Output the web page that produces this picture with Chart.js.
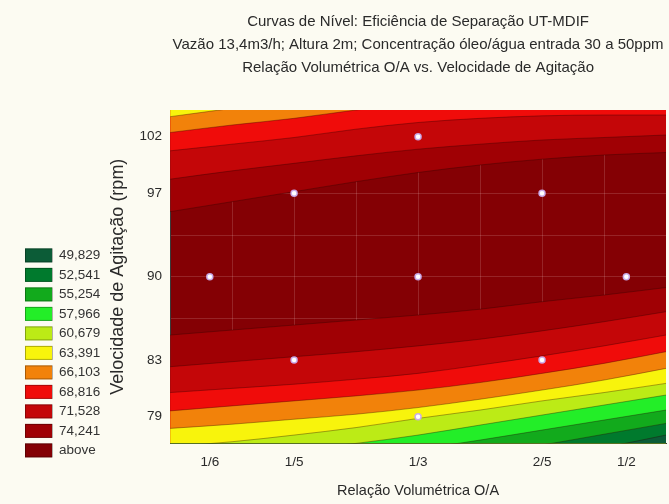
<!DOCTYPE html>
<html>
<head>
<meta charset="utf-8">
<script src="https://cdn.jsdelivr.net/npm/chart.js@4.4.0/dist/chart.umd.min.js"></script>
<style>
  html, body { margin: 0; padding: 0; background: #fcfbf2; }
</style>
</head>
<body>
<canvas id="canvas" width="669" height="504"></canvas>
<script>
// contour levels (upper limit of each colour band) and their colours
let levels = ['49,829', '52,541', '55,254', '57,966', '60,679', '63,391',
              '66,103', '68,816', '71,528', '74,241', 'above'];
let levelColors = ['rgb(12,92,55)', 'rgb(0,122,45)', 'rgb(18,170,28)', 'rgb(35,238,40)',
                   'rgb(188,235,22)', 'rgb(248,244,12)', 'rgb(242,130,10)', 'rgb(240,12,10)',
                   'rgb(196,6,8)', 'rgb(160,0,4)', 'rgb(132,0,4)'];

// coded design levels and the real values they stand for
let xTickPos = [-1.68, -1, 0, 1, 1.68];
let xTickLabels = ['1/6', '1/5', '1/3', '2/5', '1/2'];
let yTickPos = [-1.68, -1, 0, 1, 1.68];
let yTickLabels = ['79', '83', '90', '97', '102'];

// experimental runs (coded)
let runX = [-1.68, -1, -1, 0, 0, 0, 1, 1, 1.68];
let runY = [0, 1, -1, 1.68, 0, -1.68, 1, -1, 0];

// contour lines, sampled along x (coded units)
let lineX = [-2, -1.5, -1, -0.5, 0, 0.5, 1, 1.5, 2];

// lower side of the ridge
let low74241 = [-0.70, -0.64, -0.58, -0.52, -0.46, -0.39, -0.30, -0.22, -0.13];
let low71528 = [-1.08, -1.02, -0.96, -0.90, -0.83, -0.75, -0.65, -0.54, -0.42];
let low68816 = [-1.39, -1.34, -1.29, -1.23, -1.16, -1.06, -0.95, -0.83, -0.70];
let low66103 = [-1.61, -1.55, -1.49, -1.43, -1.36, -1.27, -1.16, -1.04, -0.90];
let low63391 = [-1.82, -1.77, -1.71, -1.65, -1.57, -1.47, -1.36, -1.24, -1.10];
let low60679 = [-2.04, -1.98, -1.90, -1.81, -1.70, -1.60, -1.49, -1.39, -1.28];
let low57966 = [-2.23, -2.16, -2.08, -2.00, -1.90, -1.78, -1.66, -1.54, -1.42];
let low55254 = [-2.42, -2.34, -2.25, -2.17, -2.07, -1.96, -1.84, -1.72, -1.60];
let low52541 = [-2.63, -2.53, -2.45, -2.35, -2.25, -2.14, -2.02, -1.89, -1.76];
let low49829 = [-2.81, -2.72, -2.63, -2.53, -2.42, -2.31, -2.18, -2.05, -1.90];

// upper side of the ridge
let up74241 = [0.78, 0.90, 1.02, 1.14, 1.25, 1.34, 1.41, 1.46, 1.49];
let up71528 = [1.17, 1.27, 1.36, 1.45, 1.53, 1.59, 1.64, 1.67, 1.70];
let up68816 = [1.51, 1.59, 1.67, 1.77, 1.85, 1.90, 1.93, 1.94, 1.94];
let up66103 = [1.73, 1.82, 1.90, 2.00, 2.08, 2.16, 2.24, 2.32, 2.40];
let up63391 = [1.92, 2.02, 2.12, 2.22, 2.32, 2.42, 2.52, 2.62, 2.72];

const FONT = '"Liberation Sans", Arial, sans-serif';

function pts(ys) {
  return lineX.map((x, i) => ({x: x, y: ys[i]}));
}

// one filled band per contour line; lower lines fill down, upper lines fill up
function band(ys, level, side, order) {
  return {
    type: 'line',
    data: pts(ys),
    fill: side,
    backgroundColor: levelColors[level],
    borderColor: 'rgba(40,0,0,0.35)',
    borderWidth: 1,
    pointRadius: 0,
    pointHoverRadius: 0,
    cubicInterpolationMode: 'monotone',
    order: order
  };
}

let lowerLines = [low49829, low52541, low55254, low57966, low60679,
                  low63391, low66103, low68816, low71528, low74241];
let upperLines = {5: up63391, 6: up66103, 7: up68816, 8: up71528, 9: up74241};

let datasets = [];
lowerLines.forEach((ys, k) => datasets.push(band(ys, k, 'start', k + 1)));
Object.keys(upperLines).forEach(k => datasets.push(band(upperLines[k], +k, 'end', +k)));

datasets.push({
  type: 'scatter',
  data: runX.map((x, i) => ({x: x, y: runY[i]})),
  pointRadius: 3,
  pointHoverRadius: 3,
  pointBorderWidth: 1.5,
  pointBackgroundColor: '#ffffff',
  pointBorderColor: 'rgba(200,170,235,0.95)',
  order: 0
});

function labelFor(pos, labels, v) {
  for (let i = 0; i < pos.length; i++) {
    if (Math.abs(pos[i] - v) < 0.001) return labels[i];
  }
  return '';
}

// ticks on every half unit for the grid, plus the star points
function designTicks(scale) {
  let vals = [-2, -1.68, -1.5, -1, -0.5, 0, 0.5, 1, 1.5, 1.68, 2];
  scale.ticks = vals.map(v => ({value: v}));
}

function gridColor(ctx) {
  let v = ctx.tick ? ctx.tick.value : 0;
  let half = Math.abs(v * 2 - Math.round(v * 2)) < 0.001;
  return (half && Math.abs(v) < 2) ? 'rgba(255,225,225,0.16)' : 'rgba(0,0,0,0)';
}

const background = {
  id: 'background',
  beforeDraw(chart) {
    const {ctx, chartArea: a} = chart;
    ctx.save();
    ctx.fillStyle = '#fcfbf2';
    ctx.fillRect(0, 0, chart.width, chart.height);
    ctx.fillStyle = levelColors[10];
    ctx.fillRect(a.left, a.top, a.right - a.left, a.bottom - a.top);
    ctx.restore();
  }
};

const levelLegend = {
  id: 'levelLegend',
  afterDraw(chart) {
    const ctx = chart.ctx;
    const bottom = chart.chartArea.bottom;
    ctx.save();
    ctx.font = '13.5px ' + FONT;
    ctx.textBaseline = 'middle';
    for (let i = 0; i < levels.length; i++) {
      const y = bottom - (levels.length - 1 - i) * 19.5;
      ctx.fillStyle = levelColors[i];
      ctx.fillRect(25, y, 27, 14);
      ctx.strokeStyle = 'rgba(0,0,0,0.3)';
      ctx.lineWidth = 1;
      ctx.strokeRect(25.5, y + 0.5, 27, 13);
      ctx.fillStyle = '#333333';
      ctx.fillText(levels[i], 59, y + 7);
    }
    ctx.restore();
  }
};

new Chart(document.getElementById('canvas'), {
  type: 'scatter',
  data: {datasets: datasets},
  plugins: [background, levelLegend],
  options: {
    responsive: false,
    animation: false,
    events: [],
    layout: {autoPadding: false, padding: {left: 107, right: 3, top: 0, bottom: 0}},
    plugins: {
      legend: {display: false},
      tooltip: {enabled: false},
      title: {
        display: true,
        fullSize: false,
        text: ['Curvas de Nível: Eficiência de Separação UT-MDIF',
               'Vazão 13,4m3/h; Altura 2m; Concentração óleo/água entrada 30 a 50ppm',
               'Relação Volumétrica O/A vs. Velocidade de Agitação'],
        color: '#2a2a2a',
        font: {family: FONT, size: 15, weight: 'normal', lineHeight: '23px'},
        padding: {top: 10, bottom: 31}
      }
    },
    scales: {
      x: {
        type: 'linear',
        min: -2, max: 2,
        z: 1,
        afterBuildTicks: designTicks,
        grid: {color: gridColor, drawTicks: true, tickLength: 8, tickColor: 'rgba(0,0,0,0)'},
        border: {display: true, color: '#3a3a3a'},
        ticks: {
          autoSkip: false,
          maxRotation: 0,
          padding: 3,
          color: '#2a2a2a',
          font: {family: FONT, size: 13.5},
          callback: v => labelFor(xTickPos, xTickLabels, v)
        },
        title: {
          display: true,
          text: 'Relação Volumétrica O/A',
          color: '#2a2a2a',
          font: {family: FONT, size: 14.5},
          padding: {top: 9, bottom: 4}
        }
      },
      y: {
        type: 'linear',
        min: -2, max: 2,
        z: 1,
        afterBuildTicks: designTicks,
        grid: {color: gridColor, drawTicks: true, tickLength: 5, tickColor: 'rgba(0,0,0,0)'},
        border: {display: true, color: '#3a3a3a'},
        ticks: {
          autoSkip: false,
          padding: 3,
          color: '#2a2a2a',
          font: {family: FONT, size: 13.5},
          callback: v => labelFor(yTickPos, yTickLabels, v)
        },
        title: {
          display: true,
          text: 'Velocidade de Agitação (rpm)',
          color: '#2a2a2a',
          font: {family: FONT, size: 18},
          padding: {top: 0, bottom: 8}
        }
      }
    }
  }
});
</script>
</body>
</html>
